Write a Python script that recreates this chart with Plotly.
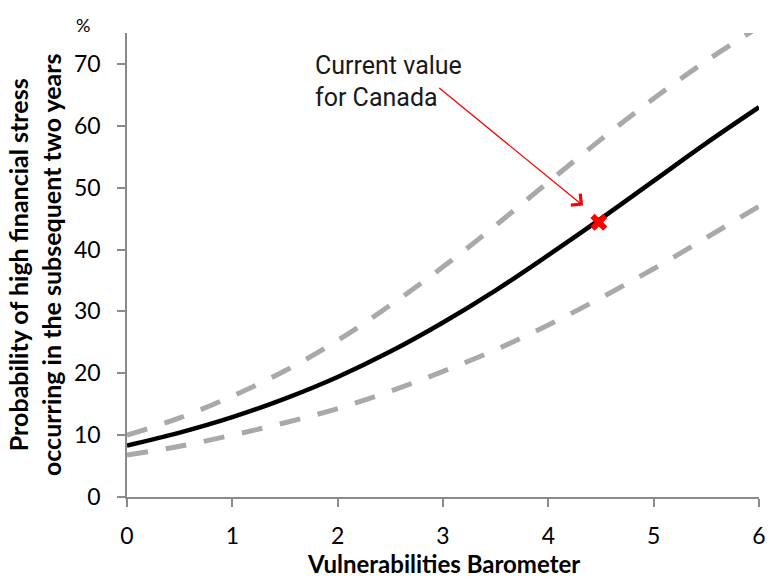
import plotly.graph_objects as go

# Data
barometer = [0, 0.5, 1, 1.5, 2, 2.5, 3, 3.5, 4, 4.5, 5, 5.5, 6]
prob_central = [8.3, 10.4, 12.9, 15.9, 19.4, 23.5, 28.2, 33.4, 39.1, 45.0, 51.1, 57.2, 63.0]
prob_upper = [10.0, 12.8, 16.3, 20.4, 25.3, 31.0, 37.2, 43.9, 50.9, 57.8, 64.4, 70.5, 76.0]
prob_lower = [6.8, 8.2, 10.0, 12.0, 14.3, 17.1, 20.3, 23.8, 27.8, 32.2, 36.9, 41.9, 47.0]
current_x = [4.48]
current_y = [44.4]
x_ticks = [0, 1, 2, 3, 4, 5, 6]
y_ticks = [0, 10, 20, 30, 40, 50, 60, 70]

TICK_FONT = dict(family="Lato, Carlito, Calibri, sans-serif", size=23, color="#000000")
TITLE_FONT = dict(family="Lato, Carlito, Calibri, sans-serif", size=25, color="#000000")
XTITLE_FONT = dict(family="Lato, Carlito, Calibri, sans-serif", size=24, color="#000000")
NOTE_FONT = dict(family="Roboto, Liberation Sans, sans-serif", size=25, color="#1a1a1a")
AXIS_COLOR = "#8a8a8a"

fig = go.Figure()
for ys in (prob_upper, prob_lower):
    fig.add_trace(go.Scatter(x=barometer, y=ys, mode="lines",
                             line=dict(color="#a9a9a9", width=5, dash="21px,18px", shape="spline"),
                             hoverinfo="skip", showlegend=False))
fig.add_trace(go.Scatter(x=barometer, y=prob_central, mode="lines",
                         line=dict(color="#000000", width=4.5, shape="spline"),
                         showlegend=False))
fig.add_trace(go.Scatter(x=current_x, y=current_y, mode="markers",
                         marker=dict(symbol="x", size=15, color="#ff0000",
                                     line=dict(width=0)),
                         showlegend=False))

fig.update_layout(
    width=774, height=581,
    margin=dict(l=127, r=8, t=33, b=84),
    paper_bgcolor="white", plot_bgcolor="white",
    xaxis=dict(range=[0, 6], tickvals=x_ticks, showgrid=False, zeroline=False,
               showline=True, linecolor=AXIS_COLOR, linewidth=1.5,
               ticks="outside", ticklen=8, tickwidth=1.5, tickcolor=AXIS_COLOR,
               tickfont=TICK_FONT, ticklabelstandoff=10),
    yaxis=dict(range=[0, 75], tickvals=y_ticks, showgrid=False, zeroline=False,
               showline=True, linecolor=AXIS_COLOR, linewidth=1.5,
               ticks="outside", ticklen=8, tickwidth=1.5, tickcolor=AXIS_COLOR,
               tickfont=TICK_FONT, ticklabelstandoff=12),
    annotations=[
        dict(text="<b>Vulnerabilities Barometer</b>", xref="paper", yref="paper",
             x=0.5, y=-0.178, xanchor="center", yanchor="bottom", showarrow=False,
             font=XTITLE_FONT),
        dict(text="<b>Probability of high financial stress<br>occurring in the subsequent two years</b>",
             xref="paper", yref="paper", x=-0.147, y=0.5, textangle=-90,
             xanchor="center", yanchor="middle", showarrow=False, font=TITLE_FONT),
        dict(text="%", xref="paper", yref="paper", x=-0.069, y=1.017,
             xanchor="center", yanchor="middle", showarrow=False,
             font=dict(family="Lato, Carlito, Calibri, sans-serif", size=18, color="#000000")),
        dict(text="Current value", xref="paper", yref="paper", x=0.294, y=0.931,
             xanchor="left", yanchor="middle", showarrow=False, font=NOTE_FONT),
        dict(text="for Canada", xref="paper", yref="paper", x=0.294, y=0.860,
             xanchor="left", yanchor="middle", showarrow=False, font=NOTE_FONT),
        dict(text="", x=4.33, y=47.1, ax=2.95, ay=66.3, xref="x", yref="y",
             axref="x", ayref="y", showarrow=True, arrowhead=4, arrowsize=2.2,
             arrowwidth=1.3, arrowcolor="#ff0000"),
    ],
)

fig.write_html("out.html", config={"displayModeBar": False},
               post_script="document.body.style.margin='0';")
